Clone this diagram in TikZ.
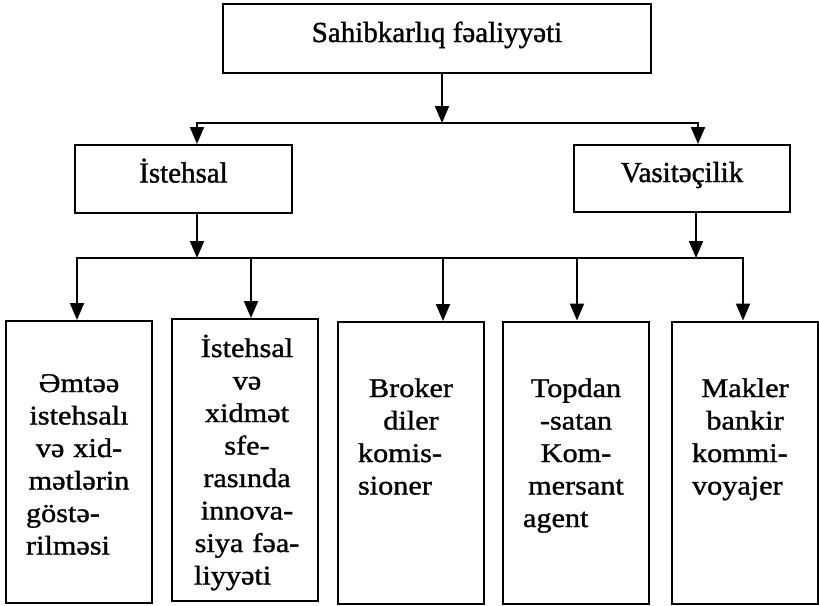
\documentclass[tikz,border=0pt]{standalone}
\usepackage{fontspec}
\setmainfont[FakeBold=1.2]{Liberation Serif}
\newfontfamily\leaffont[FakeStretch=1.12,FakeBold=1.2]{Liberation Serif}
\usetikzlibrary{arrows.meta}
\usetikzlibrary{positioning}
\tikzset{
	head/.style={draw, line width=2pt, inner sep=0pt, text height=17pt, text depth=10pt,
		font=\fontsize{29}{34}\selectfont},
	leaf/.style={draw, line width=2pt, minimum width=146pt, minimum height=282pt, inner sep=0pt},
	leaftext/.style={anchor=base, text width=106pt, align=center, inner sep=0pt,
		font=\leaffont\fontsize{27}{32.5}\selectfont},
	link/.style={line width=2pt, line cap=rect},
	arrow/.style={line width=2pt, -{Triangle[length=17pt,width=14pt]}},
}

\begin{document}
\begin{tikzpicture}[x=1pt, y=-1pt]
	\useasboundingbox (0,0) rectangle (819,605);
	% top level
	\node[head, minimum width=428, minimum height=69] (root) at (437,38.5) {Sahibkarlıq fəaliyyəti};
	\node[head, minimum width=217, minimum height=68] (ist) at (183.5,179) {İstehsal};
	\node[head, minimum width=216, minimum height=67] (vas) at (682,178.5) {Vasitəçilik};
	%
	\coordinate (j) at (442,123);
	\coordinate (ja) at (197,123);
	\coordinate (jb) at (698,123);
	\draw[arrow] (root.south -| j) -- (j);
	\draw[link] (ja) -- (jb);
	\draw[arrow] (ja) -- (ja |- ist.north);
	\draw[arrow] (jb) -- (jb |- vas.north);
	%
	\coordinate (ka) at (197,258);
	\coordinate (kb) at (696,258);
	\draw[arrow] (ist.south -| ka) -- (ka);
	\draw[arrow] (vas.south -| kb) -- (kb);
	% bottom boxes
	\node[leaf] (b1) at (79,462) {};
	\node[leaf] (b2) at (245,460) {};
	\node[leaf] (b3) at (411,463) {};
	\node[leaf] (b4) at (576,462.5) {};
	\node[leaf] (b5) at (745,462.5) {};
	\node[leaftext] (t1) at (79,392) {Əmtəə\\ istehsalı\\ və xid-\\ mətlərin\\ göstə-\hfill\null\\ rilməsi\hfill\null};
	\node[leaftext] (t2) at (247,357) {İstehsal\\ və\\ xidmət\\ sfe-\\ rasında\\ innova-\\ siya fəa-\\ liyyəti\hfill\null};
	\node[leaftext] (t3) at (411,397) {Broker\\ diler\\ komis-\hfill\null\\ sioner\hfill\null};
	\node[leaftext] (t4) at (576,397) {Topdan\\ -satan\\ Kom-\\ mersant\\ agent\hfill\null};
	\node[leaftext] (t5) at (745,397) {Makler\\ bankir\\ kommi-\hfill\null\\ voyajer\hfill\null};
	%
	\foreach \i/\x in {1/77,2/251,3/443,4/577,5/743}
		\coordinate (l\i) at (\x,258);
	\draw[link] (l1) -- (l5);
	\foreach \i in {1,...,5}
		\draw[arrow] (l\i) -- (l\i |- b\i.north);
\end{tikzpicture}
\end{document}
